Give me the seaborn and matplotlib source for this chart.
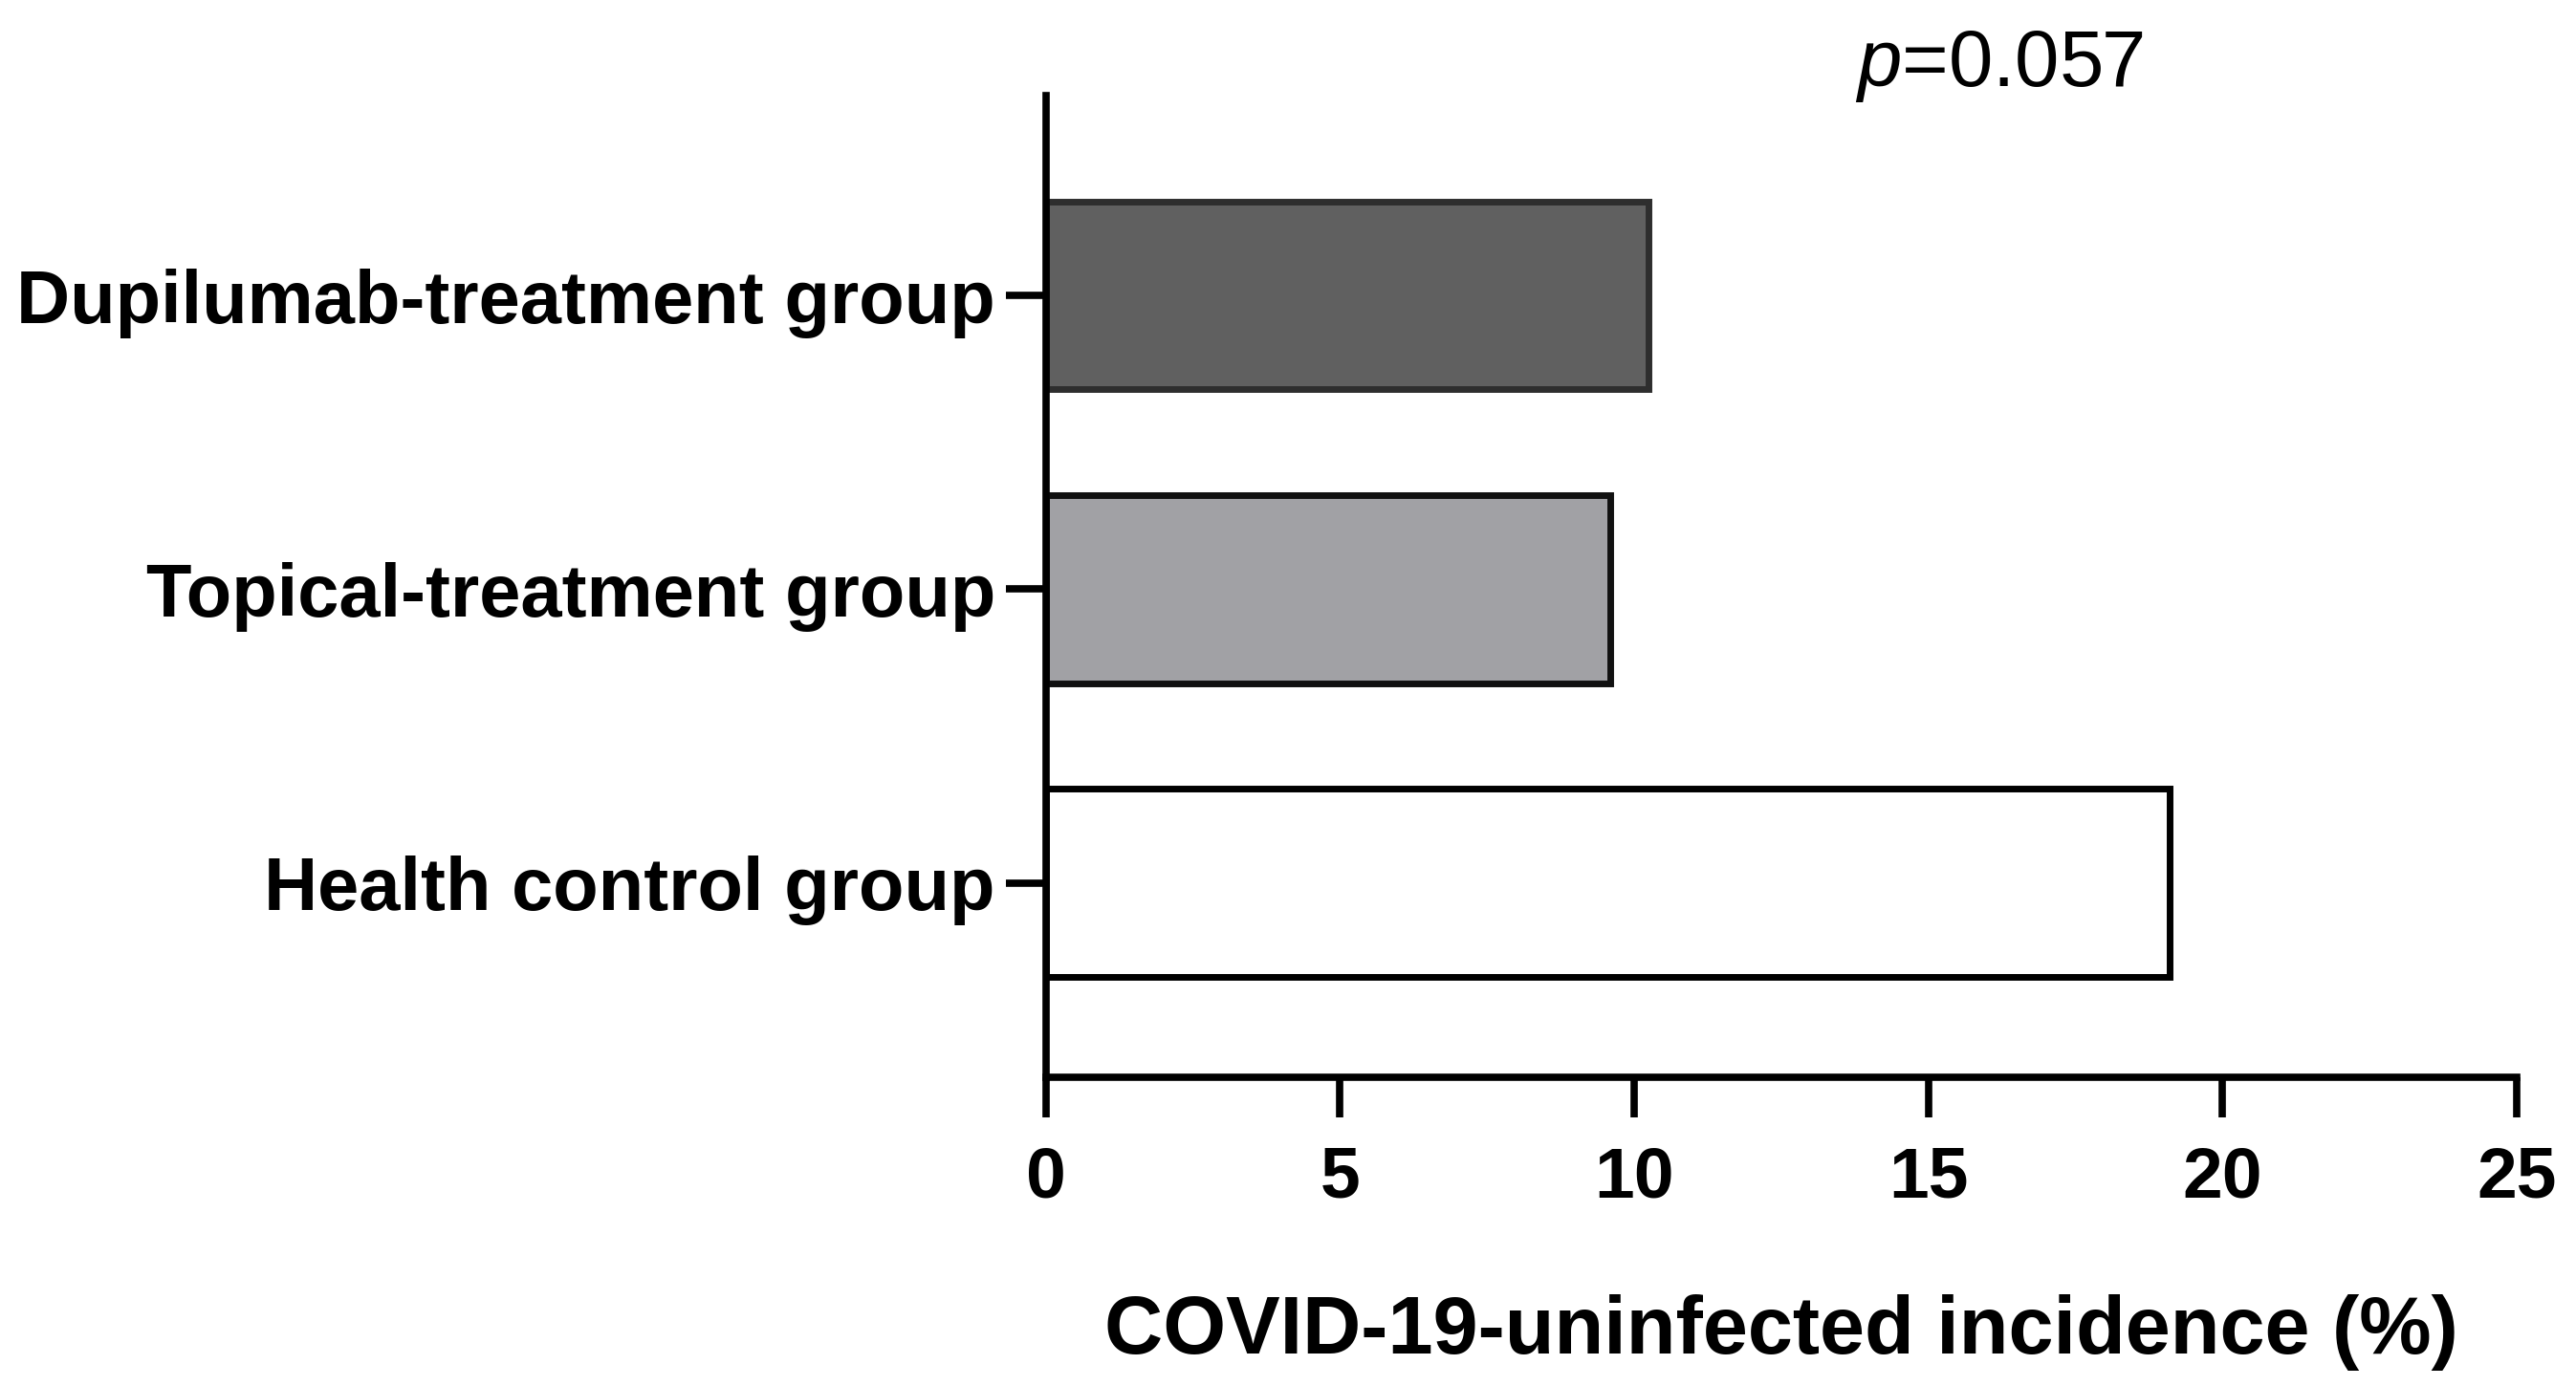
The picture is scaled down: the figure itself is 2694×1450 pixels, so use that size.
import matplotlib
matplotlib.use("Agg")
import matplotlib.pyplot as plt
import seaborn as sns
import pandas as pd

groups = ["Dupilumab-treatment group", "Topical-treatment group", "Health control group"]
incidence = [10.25, 9.6, 19.1]
bar_colors = ["#606060", "#a1a1a5", "#ffffff"]
edge_colors = ["#2e2e2e", "#111111", "#000000"]
x_ticks = [0, 5, 10, 15, 20, 25]
x_label = "COVID-19-uninfected incidence (%)"
p_text = "$p$=0.057"

sns.set_style("ticks")
plt.rcParams["font.family"] = ["Liberation Sans", "DejaVu Sans"]
plt.rcParams["mathtext.fontset"] = "custom"
plt.rcParams["mathtext.rm"] = "Liberation Sans"
plt.rcParams["mathtext.it"] = "Liberation Sans:italic"
plt.rcParams["text.color"] = "black"
plt.rcParams["axes.labelcolor"] = "black"
plt.rcParams["xtick.color"] = "black"
plt.rcParams["ytick.color"] = "black"
plt.rcParams["xtick.labelcolor"] = "black"
plt.rcParams["ytick.labelcolor"] = "black"

df = pd.DataFrame({"group": groups, "incidence": incidence})

fig = plt.figure(figsize=(26.94, 14.5), dpi=100)
ax = fig.add_axes([0.406, 0.223, 0.977 - 0.406, 0.931 - 0.223])

sns.barplot(data=df, x="incidence", y="group", hue="group", palette=bar_colors,
            order=groups, hue_order=groups, orient="h", width=0.64,
            legend=False, ax=ax, saturation=1)

for patch, ec in zip(ax.patches, edge_colors):
    patch.set_edgecolor(ec)
    patch.set_linewidth(5)

ax.set_xlim(0, 25)
ax.set_ylim(2.66, -0.68)
ax.set_xticks(x_ticks)
ax.set_xticklabels([str(t) for t in x_ticks], fontsize=54, fontweight="bold", color="black")
ax.set_yticks(range(len(groups)))
ax.set_yticklabels(groups, fontsize=56, fontweight="bold", color="black")
ax.set_ylabel("")
ax.set_xlabel(x_label, fontsize=61, fontweight="bold", labelpad=62, color="black")

sns.despine(ax=ax)
for s in ["left", "bottom"]:
    ax.spines[s].set_linewidth(5.5)
    ax.spines[s].set_color("black")
ax.tick_params(axis="x", length=30, width=5.5, pad=22, color="black")
ax.tick_params(axis="y", length=30, width=5.5, pad=8, color="black")

fig.text(0.776, 0.952, p_text, fontsize=60, ha="center", va="center", color="black")

fig.savefig("out.png", dpi=100, facecolor="white")
